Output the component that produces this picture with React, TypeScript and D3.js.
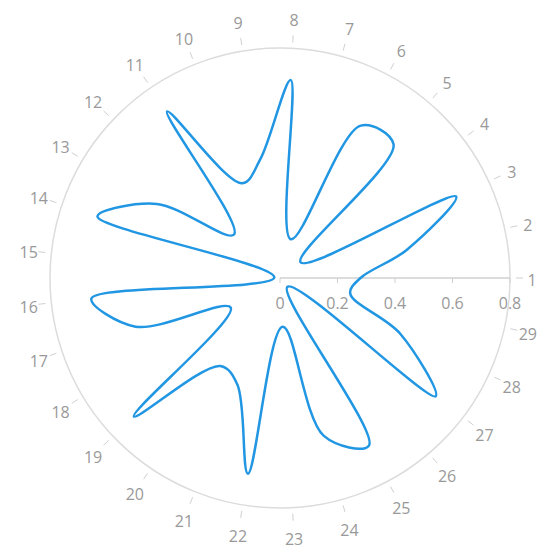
import { useEffect, useRef } from "react"
import * as d3 from "d3"

const categories = [
  "1", "2", "3", "4", "5", "6", "7", "8", "9", "10",
  "11", "12", "13", "14", "15", "16", "17", "18", "19", "20",
  "21", "22", "23", "24", "25", "26", "27", "28", "29",
]

const values = [
  0.28, 0.45, 0.675, 0.09, 0.61, 0.6, 0.14, 0.69, 0.42, 0.355,
  0.7, 0.22, 0.5, 0.67, 0.02, 0.66, 0.53, 0.2, 0.7, 0.37,
  0.4, 0.69, 0.17, 0.57, 0.66, 0.04, 0.68, 0.46, 0.25,
]

const radialTicks = [0, 0.2, 0.4, 0.6, 0.8]

export default function App() {
  const ref = useRef<SVGSVGElement | null>(null)

  useEffect(() => {
    const svg = d3.select(ref.current)
    svg.selectAll("*").remove()

    const width = 558
    const height = 550
    const cx = 280
    const cy = 278
    const outer = 230
    const font = "'Segoe UI', 'Open Sans', sans-serif"

    const r = d3.scaleLinear().domain([0, 0.8]).range([0, outer])
    const angle = d3.scaleBand<string>()
      .domain(categories)
      .range([0, 2 * Math.PI])
      .paddingInner(0)
      .paddingOuter(0)
      .align(0)

    svg.attr("width", width).attr("height", height)

    const g = svg.append("g").attr("transform", `translate(${cx},${cy})`)

    // outer ring
    g.append("circle")
      .attr("r", outer)
      .attr("fill", "none")
      .attr("stroke", "#dcdcdc")
      .attr("stroke-width", 1.5)

    // angular ticks and labels (counter-clockwise from east)
    const ang = g.append("g")
    categories.forEach(c => {
      const a = angle(c)!
      const cos = Math.cos(a)
      const sin = -Math.sin(a)
      const lr = 252 + 8 * Math.abs(sin)
      ang.append("line")
        .attr("x1", cos * (outer + 6))
        .attr("y1", sin * (outer + 6))
        .attr("x2", cos * (outer + 13))
        .attr("y2", sin * (outer + 13))
        .attr("stroke", "#d0d0d0")
        .attr("stroke-width", 1)
      ang.append("text")
        .attr("x", cos * lr)
        .attr("y", sin * lr + 1.5)
        .attr("text-anchor", "middle")
        .attr("dominant-baseline", "central")
        .attr("font-family", font)
        .attr("font-size", 16)
        .attr("fill", "#999")
        .text(c)
    })

    // radial axis along 0 degrees
    const rad = g.append("g")
    rad.append("line")
      .attr("x1", 0).attr("y1", 0)
      .attr("x2", r(0.8)).attr("y2", 0)
      .attr("stroke", "#d0d0d0")
      .attr("stroke-width", 1.5)
    rad.selectAll("line.tick")
      .data(radialTicks)
      .enter()
      .append("line")
      .attr("class", "tick")
      .attr("x1", d => r(d)).attr("x2", d => r(d))
      .attr("y1", 0).attr("y2", 5)
      .attr("stroke", "#d0d0d0")
      .attr("stroke-width", 1)
    rad.selectAll("text")
      .data(radialTicks)
      .enter()
      .append("text")
      .attr("x", d => r(d))
      .attr("y", 31)
      .attr("text-anchor", "middle")
      .attr("font-family", font)
      .attr("font-size", 16)
      .attr("fill", "#999")
      .text(d => (d === 0 ? "0" : d.toFixed(1)))

    // series line, smoothed in cartesian space
    const line = d3.lineRadial<number>()
      .angle((_, i) => Math.PI / 2 - angle(categories[i])!)
      .radius(d => r(d))
      .curve(d3.curveCatmullRomClosed.alpha(0.5))

    g.append("path")
      .datum(values)
      .attr("d", line)
      .attr("fill", "none")
      .attr("stroke", "#2196e3")
      .attr("stroke-width", 2.5)
      .attr("stroke-linejoin", "round")
  }, [])

  return (
    <svg
      ref={ref}
      style={{ position: "absolute", left: 0, top: 0, display: "block" }}
    />
  )
}
